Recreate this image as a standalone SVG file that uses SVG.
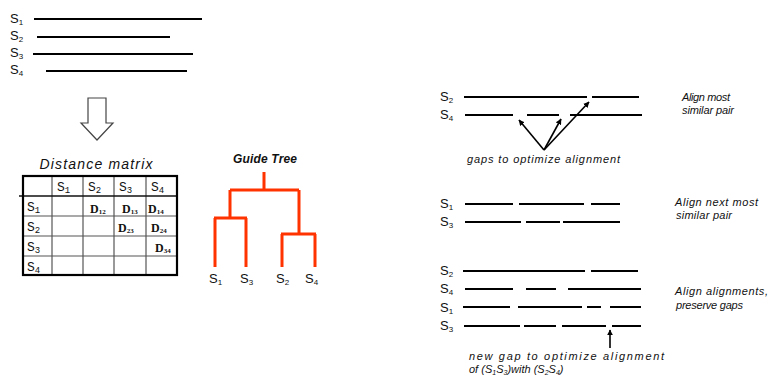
<svg xmlns="http://www.w3.org/2000/svg" width="769" height="377" viewBox="0 0 769 377">
<style>
.lbl{font-family:"Liberation Sans",Arial,sans-serif;font-size:13px;fill:#111}
.sub{font-size:8px}
.seq{stroke:#000;stroke-width:2;fill:none}
.mono{font-family:"Liberation Mono","Courier New",monospace;font-size:13px;fill:#111}
.msub{font-size:9px}
.dd{font-family:"Liberation Serif","Times New Roman",serif;font-weight:bold;font-size:12px;fill:#111}
.dsub{font-size:7px}
.it{font-family:"Liberation Sans",Arial,sans-serif;font-style:italic;font-size:11px;fill:#111}
.tree{stroke:#FF3300;stroke-width:3;fill:none}
.arr{stroke:#000;stroke-width:1.6;fill:none;marker-end:url(#ah)}
.grid{stroke:#555;stroke-width:1.2}
</style>
<defs>
<marker id="ah" viewBox="0 0 10 10" refX="9" refY="5" markerWidth="6" markerHeight="6" orient="auto" markerUnits="userSpaceOnUse">
<path d="M0,0 L10,5 L0,10 z" fill="#000"/>
</marker>
</defs>
<rect width="769" height="377" fill="#fff"/>

<g id="input-sequences">
<text class="lbl" x="10" y="23">S<tspan class="sub" dy="2">1</tspan></text>
<text class="lbl" x="10" y="40">S<tspan class="sub" dy="2">2</tspan></text>
<text class="lbl" x="10" y="57">S<tspan class="sub" dy="2">3</tspan></text>
<text class="lbl" x="10" y="74">S<tspan class="sub" dy="2">4</tspan></text>
<line class="seq" x1="34" y1="19" x2="202" y2="19"/>
<line class="seq" x1="37" y1="37" x2="170" y2="37"/>
<line class="seq" x1="33" y1="54" x2="193" y2="54"/>
<line class="seq" x1="46" y1="71" x2="187" y2="71"/>
</g>

<g id="down-arrow">
<polygon points="88,98 106,98 106,123 113,123 97,140 81,123 88,123" fill="#fff" stroke="#444" stroke-width="1.2"/>
</g>

<g id="distance-matrix">
<text x="96" y="169" text-anchor="middle" font-family="Liberation Sans, Arial, sans-serif" font-style="italic" font-size="14" fill="#111" textLength="113">Distance matrix</text>
<line class="grid" x1="52" y1="176" x2="52" y2="275"/>
<line class="grid" x1="83" y1="176" x2="83" y2="275"/>
<line class="grid" x1="114" y1="176" x2="114" y2="275"/>
<line class="grid" x1="146" y1="176" x2="146" y2="275"/>
<line stroke="#111" stroke-width="1.6" x1="19" y1="196" x2="177" y2="196"/>
<line class="grid" x1="23" y1="216" x2="177" y2="216" stroke="#777" stroke-width="1.6"/>
<line class="grid" x1="23" y1="236" x2="177" y2="236" stroke="#777" stroke-width="1.6"/>
<line class="grid" x1="23" y1="256" x2="177" y2="256"/>
<rect x="23" y="176" width="154" height="99" fill="none" stroke="#000" stroke-width="2.2"/>
<text class="mono" x="57" y="191">S<tspan class="msub" dy="2">1</tspan></text>
<text class="mono" x="88" y="191">S<tspan class="msub" dy="2">2</tspan></text>
<text class="mono" x="119" y="191">S<tspan class="msub" dy="2">3</tspan></text>
<text class="mono" x="151" y="191">S<tspan class="msub" dy="2">4</tspan></text>
<text class="mono" x="27" y="211">S<tspan class="msub" dy="2">1</tspan></text>
<text class="mono" x="27" y="231">S<tspan class="msub" dy="2">2</tspan></text>
<text class="mono" x="27" y="251">S<tspan class="msub" dy="2">3</tspan></text>
<text class="mono" x="27" y="271">S<tspan class="msub" dy="2">4</tspan></text>
<text class="dd" x="90" y="213">D<tspan class="dsub" dy="1">12</tspan></text>
<text class="dd" x="122" y="213">D<tspan class="dsub" dy="1">13</tspan></text>
<text class="dd" x="148" y="213">D<tspan class="dsub" dy="1">14</tspan></text>
<text class="dd" x="118" y="232">D<tspan class="dsub" dy="1">23</tspan></text>
<text class="dd" x="151" y="232">D<tspan class="dsub" dy="1">24</tspan></text>
<text class="dd" x="155" y="252">D<tspan class="dsub" dy="1">34</tspan></text>
</g>

<g id="guide-tree">
<text x="265" y="163" text-anchor="middle" font-family="Liberation Sans, Arial, sans-serif" font-style="italic" font-weight="bold" font-size="12" fill="#111" textLength="64">Guide Tree</text>
<text class="lbl" x="209" y="283">S<tspan class="sub" dy="2">1</tspan></text>
<text class="lbl" x="240" y="283">S<tspan class="sub" dy="2">3</tspan></text>
<text class="lbl" x="276" y="283">S<tspan class="sub" dy="2">2</tspan></text>
<text class="lbl" x="305" y="283">S<tspan class="sub" dy="2">4</tspan></text>
</g>

<g id="connectors">
<path class="tree" d="M264,172 V190 M230,190 H299 M230,190 V218 M214,218 H247 M215,218 V267 M246,218 V267 M299,190 V234 M281,234 H316 M282,234 V267 M315,234 V267"/>
<line class="arr" x1="544" y1="150" x2="519" y2="120"/>
<line class="arr" x1="544" y1="150" x2="561" y2="119"/>
<line class="arr" x1="544" y1="150" x2="589" y2="102"/>
<line class="arr" x1="610" y1="348" x2="610" y2="330"/>
</g>

<g id="step1-align-pair">
<text class="lbl" x="440" y="101">S<tspan class="sub" dy="2">2</tspan></text>
<text class="lbl" x="440" y="119">S<tspan class="sub" dy="2">4</tspan></text>
<path class="seq" d="M464,97 H587 M592,97 H639"/>
<path class="seq" d="M465,115 H513 M527,115 H559 M570,115 H642"/>
<text class="it" x="467" y="163" textLength="153">gaps to optimize alignment</text>
<text class="it" x="682" y="101" textLength="48">Align most</text>
<text class="it" x="682" y="114" textLength="52">similar pair</text>
</g>

<g id="step2-align-next">
<text class="lbl" x="440" y="208">S<tspan class="sub" dy="2">1</tspan></text>
<text class="lbl" x="440" y="226">S<tspan class="sub" dy="2">3</tspan></text>
<path class="seq" d="M465,204 H513 M519,204 H584 M591,204 H620"/>
<path class="seq" d="M465,222 H521 M526,222 H560 M563,222 H620"/>
<text class="it" x="675" y="206" textLength="83">Align next most</text>
<text class="it" x="676" y="219" textLength="56">similar pair</text>
</g>

<g id="step3-align-alignments">
<text class="lbl" x="440" y="275">S<tspan class="sub" dy="2">2</tspan></text>
<text class="lbl" x="440" y="293">S<tspan class="sub" dy="2">4</tspan></text>
<text class="lbl" x="440" y="312">S<tspan class="sub" dy="2">1</tspan></text>
<text class="lbl" x="440" y="330">S<tspan class="sub" dy="2">3</tspan></text>
<path class="seq" d="M463,271 H585 M591,271 H638"/>
<path class="seq" d="M465,289 H513 M526,289 H556 M568,289 H641"/>
<path class="seq" d="M463,307 H510 M518,307 H582 M587,307 H601 M610,307 H641"/>
<path class="seq" d="M464,326 H520 M524,326 H556 M562,326 H606 M612,326 H641"/>
<text class="it" x="675" y="295" textLength="93">Align alignments,</text>
<text class="it" x="676" y="309" textLength="67">preserve gaps</text>
<text class="it" x="469" y="360" textLength="195">new gap to optimize alignment</text>
<text class="it" x="469" y="373">of (S<tspan font-size="7" dy="2">1</tspan><tspan dy="-2">S</tspan><tspan font-size="7" dy="2">3</tspan><tspan dy="-2">)with (S</tspan><tspan font-size="7" dy="2">2</tspan><tspan dy="-2">S</tspan><tspan font-size="7" dy="2">4</tspan><tspan dy="-2">)</tspan></text>
</g>
</svg>
